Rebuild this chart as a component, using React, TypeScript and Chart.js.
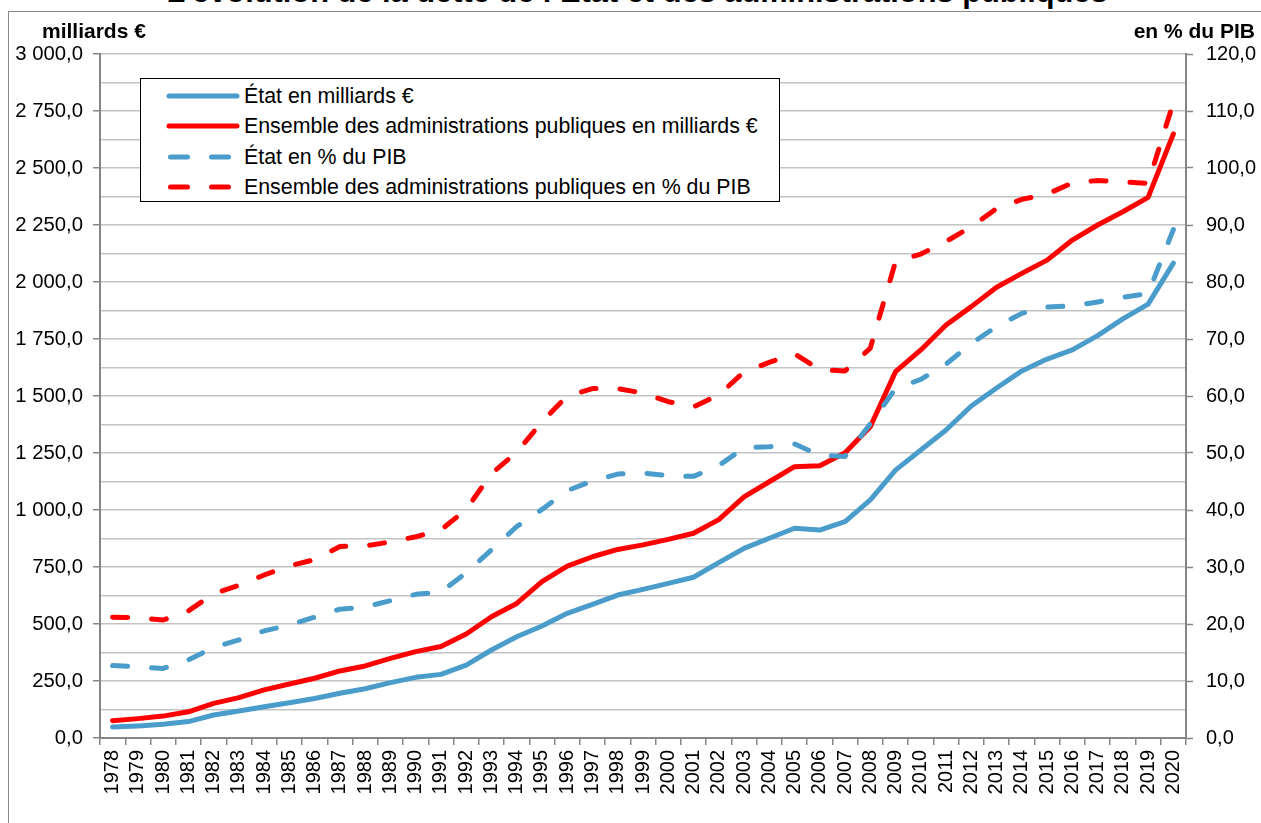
import React, { useEffect, useRef } from 'react';
import { Chart, registerables } from 'chart.js';

Chart.register(...registerables);

const years = [
  '1978', '1979', '1980', '1981', '1982', '1983', '1984', '1985', '1986', '1987',
  '1988', '1989', '1990', '1991', '1992', '1993', '1994', '1995', '1996', '1997',
  '1998', '1999', '2000', '2001', '2002', '2003', '2004', '2005', '2006', '2007',
  '2008', '2009', '2010', '2011', '2012', '2013', '2014', '2015', '2016', '2017',
  '2018', '2019', '2020',
];

// État en milliards €
const etatMilliards = [
  48, 53, 60, 72, 101, 118, 137, 155, 173, 196,
  216, 243, 266, 279, 320, 386, 444, 491, 547, 586,
  627, 652, 678, 705, 769, 832, 876, 920, 912, 949,
  1044, 1175, 1263, 1351, 1456, 1535, 1610, 1662, 1702, 1765,
  1838, 1903, 2083,
];

// Ensemble des administrations publiques en milliards €
const apuMilliards = [
  76, 85, 96, 115, 152, 177, 211, 237, 262, 294,
  316, 349, 379, 401, 456, 532, 590, 686, 754, 795,
  827, 847, 871, 898, 958, 1058, 1124, 1190, 1194, 1251,
  1365, 1607, 1702, 1811, 1892, 1977, 2038, 2096, 2184, 2250,
  2308, 2371, 2650,
];

// État en % du PIB
const etatPctPib = [
  12.7, 12.5, 12.2, 13.7, 15.9, 17.2, 18.8, 19.8, 21.2, 22.6,
  23.0, 24.1, 25.2, 25.6, 29.0, 33.0, 37.1, 40.1, 43.4, 45.1,
  46.3, 46.5, 46.0, 45.9, 47.8, 50.9, 51.1, 51.6, 49.6, 49.4,
  55.1, 61.3, 62.9, 65.6, 69.2, 72.2, 74.5, 75.6, 75.8, 76.5,
  77.3, 78.0, 89.2,
];

// Ensemble des administrations publiques en % du PIB
const apuPctPib = [
  21.2, 21.1, 20.7, 22.3, 25.3, 26.8, 28.6, 30.2, 31.3, 33.6,
  33.7, 34.4, 35.3, 36.5, 40.1, 46.4, 50.1, 55.5, 60.0, 61.3,
  61.3, 60.5, 59.0, 58.1, 60.2, 64.2, 65.9, 67.4, 64.6, 64.4,
  68.4, 83.6, 84.9, 87.1, 89.7, 92.9, 94.5, 95.4, 97.4, 97.8,
  97.6, 97.3, 111.5,
];

const seriesLabels = [
  'État en milliards €',
  'Ensemble des administrations publiques en milliards €',
  'État en % du PIB',
  'Ensemble des administrations publiques en % du PIB',
];

const titleText = 'L’évolution de la dette de l’État et des administrations publiques';
const leftAxisTitle = 'milliards €';
const rightAxisTitle = 'en % du PIB';

const leftMin = 0;
const leftMax = 3000;
const leftGridStep = 125;
const leftLabelStep = 250;
const rightMin = 0;
const rightMax = 120;
const rightStep = 10;

const BLUE = '#4A9CCB';
const RED = '#FF0000';
const AXIS = '#868686';
const GRID = '#C3C3C3';
const FONT = "'Liberation Sans', Arial, sans-serif";
const DASH = [15, 24];

function frNumber(v: number): string {
  const s = v.toFixed(1);
  const [intPart, dec] = s.split('.');
  const grouped = intPart.replace(/\B(?=(\d{3})+(?!\d))/g, ' ');
  return grouped + ',' + dec;
}

const legendItems = [
  { label: seriesLabels[0], color: BLUE, dashed: false },
  { label: seriesLabels[1], color: RED, dashed: false },
  { label: seriesLabels[2], color: BLUE, dashed: true },
  { label: seriesLabels[3], color: RED, dashed: true },
];

function lineDataset(label: string, data: number[], axis: string, color: string, dashed: boolean, order: number) {
  return {
    label,
    data,
    yAxisID: axis,
    borderColor: color,
    backgroundColor: color,
    borderWidth: 5,
    borderDash: dashed ? DASH : [],
    pointRadius: 0,
    tension: 0,
    borderJoinStyle: 'round' as const,
    borderCapStyle: 'round' as const,
    order,
  };
}

export default function App() {
  const canvasRef = useRef<HTMLCanvasElement | null>(null);

  useEffect(() => {
    const canvas = canvasRef.current;
    if (!canvas) return;
    const chart = new Chart(canvas, {
      type: 'line',
      data: {
        labels: years,
        datasets: [
          lineDataset(seriesLabels[0], etatMilliards, 'y', BLUE, false, 3),
          lineDataset(seriesLabels[1], apuMilliards, 'y', RED, false, 2),
          lineDataset(seriesLabels[2], etatPctPib, 'y1', BLUE, true, 1),
          lineDataset(seriesLabels[3], apuPctPib, 'y1', RED, true, 0),
        ],
      },
      options: {
        animation: false,
        responsive: true,
        maintainAspectRatio: false,
        events: [],
        layout: { padding: { top: 54, left: 0, right: 0, bottom: 0 } },
        plugins: {
          legend: { display: false },
          tooltip: { enabled: false },
          title: { display: false },
        },
        scales: {
          x: {
            type: 'category',
            offset: true,
            grid: {
              offset: true,
              drawOnChartArea: false,
              drawTicks: true,
              tickLength: 7,
              color: AXIS,
              tickColor: AXIS,
              lineWidth: 1.5,
            },
            border: { display: true, color: AXIS, width: 2 },
            ticks: {
              autoSkip: false,
              maxRotation: 90,
              minRotation: 90,
              padding: 5,
              color: '#000',
              font: { family: FONT, size: 20 },
            },
            afterFit: (scale: any) => {
              scale.height = 85;
            },
          },
          y: {
            type: 'linear',
            position: 'left',
            min: leftMin,
            max: leftMax,
            grid: {
              color: GRID,
              lineWidth: 1.5,
              drawTicks: true,
              tickLength: 7,
              tickWidth: 1.5,
              tickColor: (ctx: any) =>
                ctx.tick && ctx.tick.value % leftLabelStep === 0 ? AXIS : 'rgba(0,0,0,0)',
            },
            border: { display: true, color: AXIS, width: 2 },
            ticks: {
              stepSize: leftGridStep,
              autoSkip: false,
              padding: 10,
              color: '#000',
              font: { family: FONT, size: 20.3 },
              callback: (value: any) =>
                Number(value) % leftLabelStep === 0 ? frNumber(Number(value)) : '',
            },
            afterFit: (scale: any) => {
              scale.width = 100;
            },
          },
          y1: {
            type: 'linear',
            position: 'right',
            min: rightMin,
            max: rightMax,
            grid: {
              drawOnChartArea: false,
              drawTicks: true,
              tickLength: 7,
              tickWidth: 1.5,
              tickColor: AXIS,
            },
            border: { display: true, color: AXIS, width: 2 },
            ticks: {
              stepSize: rightStep,
              autoSkip: false,
              padding: 13,
              color: '#000',
              font: { family: FONT, size: 20 },
              callback: (value: any) => frNumber(Number(value)),
            },
            afterFit: (scale: any) => {
              scale.width = 75;
            },
          },
        },
      },
    });
    return () => {
      chart.destroy();
    };
  }, []);

  return (
    <div
      style={{
        position: 'fixed',
        left: 0,
        top: 0,
        width: 1261,
        height: 823,
        overflow: 'hidden',
        background: '#fff',
        fontFamily: FONT,
      }}
    >
      <div
        style={{
          position: 'absolute',
          left: 0,
          top: -23,
          width: 1274,
          textAlign: 'center',
          fontWeight: 'bold',
          fontSize: 30.8,
          lineHeight: '30.8px',
          color: '#000',
          whiteSpace: 'nowrap',
        }}
      >
        {titleText}
      </div>
      <div
        style={{
          position: 'absolute',
          left: 8,
          top: 11,
          width: 1400,
          height: 1000,
          border: '1.5px solid #8a8a8a',
          boxSizing: 'border-box',
          background: '#fff',
        }}
      />
      <div style={{ position: 'absolute', left: 0, top: 0, width: 1261, height: 823 }}>
        <canvas ref={canvasRef} />
      </div>
      <div
        style={{
          position: 'absolute',
          left: 42,
          top: 20,
          fontWeight: 'bold',
          fontSize: 21,
          lineHeight: '22px',
          color: '#000',
          whiteSpace: 'nowrap',
        }}
      >
        {leftAxisTitle}
      </div>
      <div
        style={{
          position: 'absolute',
          right: 1261 - 1255,
          top: 20,
          fontWeight: 'bold',
          fontSize: 21,
          lineHeight: '22px',
          color: '#000',
          whiteSpace: 'nowrap',
        }}
      >
        {rightAxisTitle}
      </div>
      <div
        style={{
          position: 'absolute',
          left: 140,
          top: 78,
          width: 640,
          height: 124,
          boxSizing: 'border-box',
          border: '1px solid #000',
          background: '#fff',
        }}
      >
        {legendItems.map((item, i) => {
          const cy = 17 + i * 30.4;
          return (
            <React.Fragment key={item.label}>
              <svg
                width={80}
                height={12}
                style={{ position: 'absolute', left: 22, top: cy - 6 }}
              >
                <line
                  x1={item.dashed ? 7.5 : 6}
                  x2={item.dashed ? 65.5 : 74}
                  y1={6}
                  y2={6}
                  stroke={item.color}
                  strokeWidth={5}
                  strokeLinecap="round"
                  strokeDasharray={item.dashed ? '17 24' : undefined}
                />
              </svg>
              <div
                style={{
                  position: 'absolute',
                  left: 103,
                  top: cy - 12,
                  fontSize: 21.35,
                  lineHeight: '24px',
                  color: '#000',
                  whiteSpace: 'nowrap',
                }}
              >
                {item.label}
              </div>
            </React.Fragment>
          );
        })}
      </div>
    </div>
  );
}
